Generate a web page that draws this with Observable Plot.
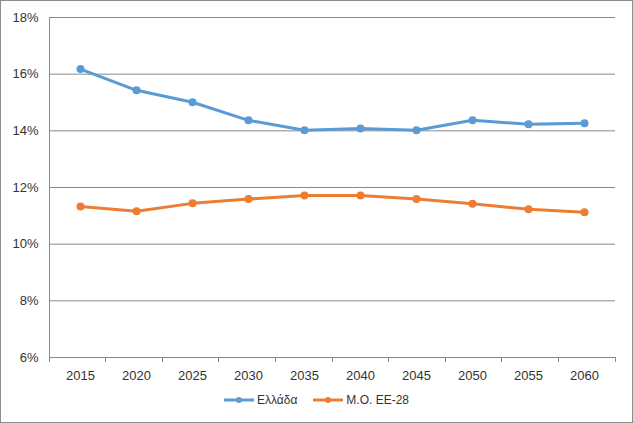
<!DOCTYPE html>
<html><head><meta charset="utf-8">
<script src="https://cdn.jsdelivr.net/npm/d3@7"></script>
<script src="https://cdn.jsdelivr.net/npm/@observablehq/plot@0.6"></script>
<style>
html,body{margin:0;padding:0;background:#fff;}
#chart{width:633px;height:423px;box-sizing:border-box;border:1px solid #8c8c8c;position:relative;font-family:"Liberation Sans",Arial,sans-serif;background:#fff;overflow:hidden}
#legend{position:absolute;left:0;right:0;top:392px;display:flex;justify-content:center;gap:16px;font-size:12px;color:#333}
#legend .item{display:flex;align-items:center;gap:3px}
</style></head><body>
<div id="chart"></div>
<script>
const years = [2015, 2020, 2025, 2030, 2035, 2040, 2045, 2050, 2055, 2060];
const greece = [16.18, 15.43, 15.01, 14.37, 14.02, 14.08, 14.02, 14.37, 14.23, 14.27];
const eu28 = [11.33, 11.16, 11.44, 11.59, 11.72, 11.72, 11.59, 11.43, 11.23, 11.13];
const seriesNames = ["Ελλάδα", "Μ.Ο. ΕΕ-28"];
const seriesColors = ["#5B9BD5", "#ED7D31"];
const yTicks = [6, 8, 10, 12, 14, 16, 18];

const data = years.flatMap((yr, i) => [
  {year: String(yr), value: greece[i], series: seriesNames[0]},
  {year: String(yr), value: eu28[i], series: seriesNames[1]}
]);

const plot = Plot.plot({
  width: 631, height: 385,
  marginLeft: 48, marginRight: 17, marginTop: 16, marginBottom: 29,
  style: {fontFamily: '"Liberation Sans", Arial, sans-serif', fontSize: "13px", color: "#333", background: "transparent"},
  x: {type: "point", domain: years.map(String), padding: 0.5, label: null},
  y: {domain: [6, 18], label: null},
  color: {domain: seriesNames, range: seriesColors},
  marks: [
    Plot.gridY(yTicks, {stroke: "#8a8a8a", strokeOpacity: 1}),
    Plot.axisY(yTicks, {tickSize: 0, tickPadding: 11, tickFormat: d => d + "%", fontSize: 13}),
    Plot.axisX({tickSize: 0, tickPadding: 13, fontSize: 13}),
    Plot.line(data, {x: "year", y: "value", z: "series", stroke: "series", strokeWidth: 3}),
    Plot.dot(data, {x: "year", y: "value", fill: "series", r: 4})
  ]
});

// axis lines and category boundary ticks from the plot's own scales
const xs = plot.scale("x"), ys = plot.scale("y");
const x0 = xs.range[0], x1 = xs.range[1];
const step = (x1 - x0) / years.length;
const yb = ys.apply(6), yt = ys.apply(18);
const g = d3.select(plot).append("g").attr("stroke", "#8a8a8a").attr("shape-rendering", "crispEdges");
g.append("line").attr("x1", x0).attr("x2", x0).attr("y1", yt).attr("y2", yb);
g.append("line").attr("x1", x0).attr("x2", x1).attr("y1", yb).attr("y2", yb);
d3.range(years.length + 1).forEach(i => {
  const x = x0 + i * step;
  g.append("line").attr("x1", x).attr("x2", x).attr("y1", yb).attr("y2", yb + 5);
});

const chart = document.getElementById("chart");
chart.appendChild(plot);

const legend = document.createElement("div");
legend.id = "legend";
seriesNames.forEach((name, i) => {
  const item = document.createElement("div");
  item.className = "item";
  item.innerHTML = `<svg width="30" height="10"><line x1="0" x2="30" y1="5" y2="5" stroke="${seriesColors[i]}" stroke-width="3"/><circle cx="15" cy="5" r="3" fill="${seriesColors[i]}"/></svg><span>${name}</span>`;
  legend.appendChild(item);
});
chart.appendChild(legend);
</script>
</body></html>
